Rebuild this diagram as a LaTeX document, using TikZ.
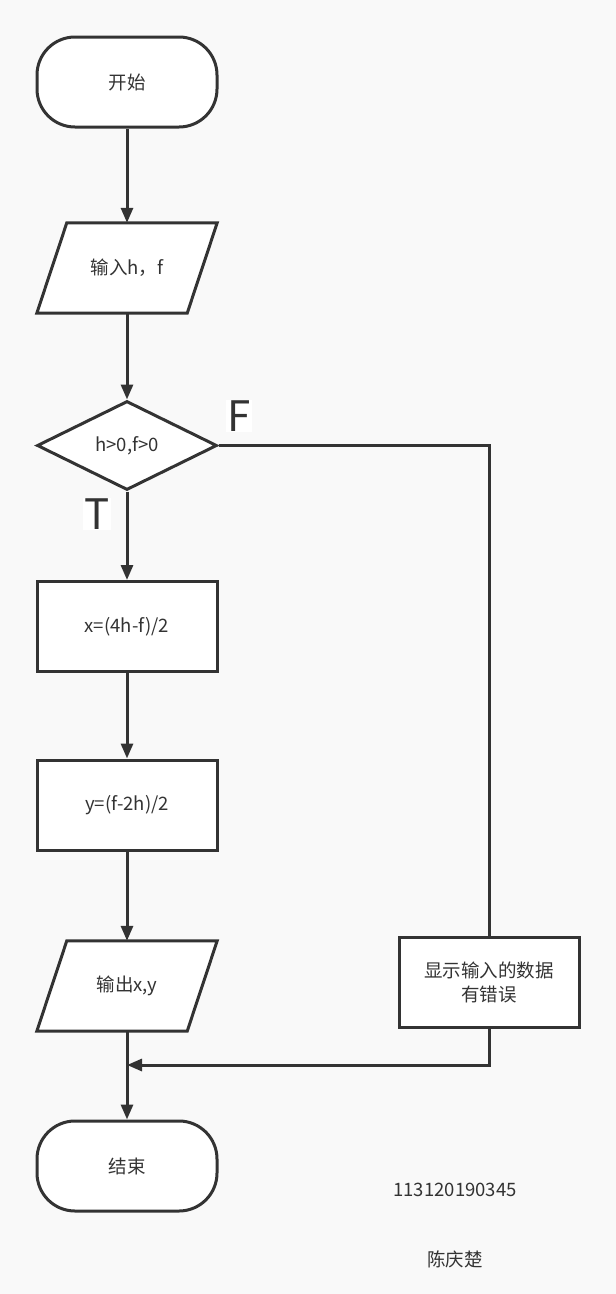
\documentclass[tikz,border=0pt]{standalone}
\usepackage{fontspec}
\setmainfont{Noto Sans CJK SC}
\usetikzlibrary{arrows.meta,shapes.geometric,calc}
\definecolor{ln}{HTML}{333333}
\definecolor{bg}{HTML}{F9F9F9}
\begin{document}
\begin{tikzpicture}[x=1pt,y=-1pt,
  every node/.style={text=ln,font=\fontsize{18.5}{24}\selectfont},
  term/.style={draw=ln,line width=3pt,fill=white,rounded corners=38pt,minimum width=180pt,minimum height=90pt,inner sep=0pt},
  proc/.style={draw=ln,line width=3pt,fill=white,minimum width=180pt,minimum height=90pt,inner sep=0pt,align=center},
  iobox/.style={minimum width=180pt,minimum height=90pt,inner sep=0pt},
  dec/.style={draw=ln,line width=3pt,fill=white,diamond,aspect=2,minimum width=180pt,minimum height=89pt,inner sep=0pt},
  arr/.style={draw=ln,line width=3pt,-{Triangle[length=15pt,width=12pt]}},
  conn/.style={draw=ln,line width=3pt},
  big/.style={fill=white,inner sep=1pt,font=\fontsize{42}{42}\selectfont}
]
\fill[bg] (0,0) rectangle (616,1294);
\useasboundingbox (0,0) rectangle (616,1294);

\node[term] (start) at (127,82) {开始};

\node[iobox] (in) at (127,268) {};
\filldraw[draw=ln,fill=white,line width=3pt,line join=miter]
  ($(in.north west)+(30,0)$) -- (in.north east) -- ($(in.south east)+(-30,0)$) -- (in.south west) -- cycle;
\node at (in) {输入h，f};

\node[dec] (dec) at (127,445.5) {h>0,f>0};

\node[proc] (x) at (127,626.5) {x=(4h-f)/2};
\node[proc] (y) at (127,805) {y=(f-2h)/2};

\node[iobox] (out) at (127,986) {};
\filldraw[draw=ln,fill=white,line width=3pt,line join=miter]
  ($(out.north west)+(30,0)$) -- (out.north east) -- ($(out.south east)+(-30,0)$) -- (out.south west) -- cycle;
\node at (out) {输出x,y};

\node[proc] (err) at (489,982) {显示输入的数据\\有错误};

\node[term] (end) at (127,1166) {结束};

\coordinate (m) at (127,1065);

\draw[arr] (start) -- (in);
\draw[arr] (in) -- (dec);
\draw[arr] (dec) -- (x);
\draw[arr] (x) -- (y);
\draw[arr] (y) -- (out);
\draw[arr] (out) -- (end);
\draw[conn] (dec.east) -| (err.north);
\draw[arr] (err.south) |- (m);

\node[big] (F) at (239,416) {F};
\node[big] (T) at (97,514) {T};

\node (id) at (455,1190) {113120190345};
\node (name) at (455,1259) {陈庆楚};
\end{tikzpicture}
\end{document}
